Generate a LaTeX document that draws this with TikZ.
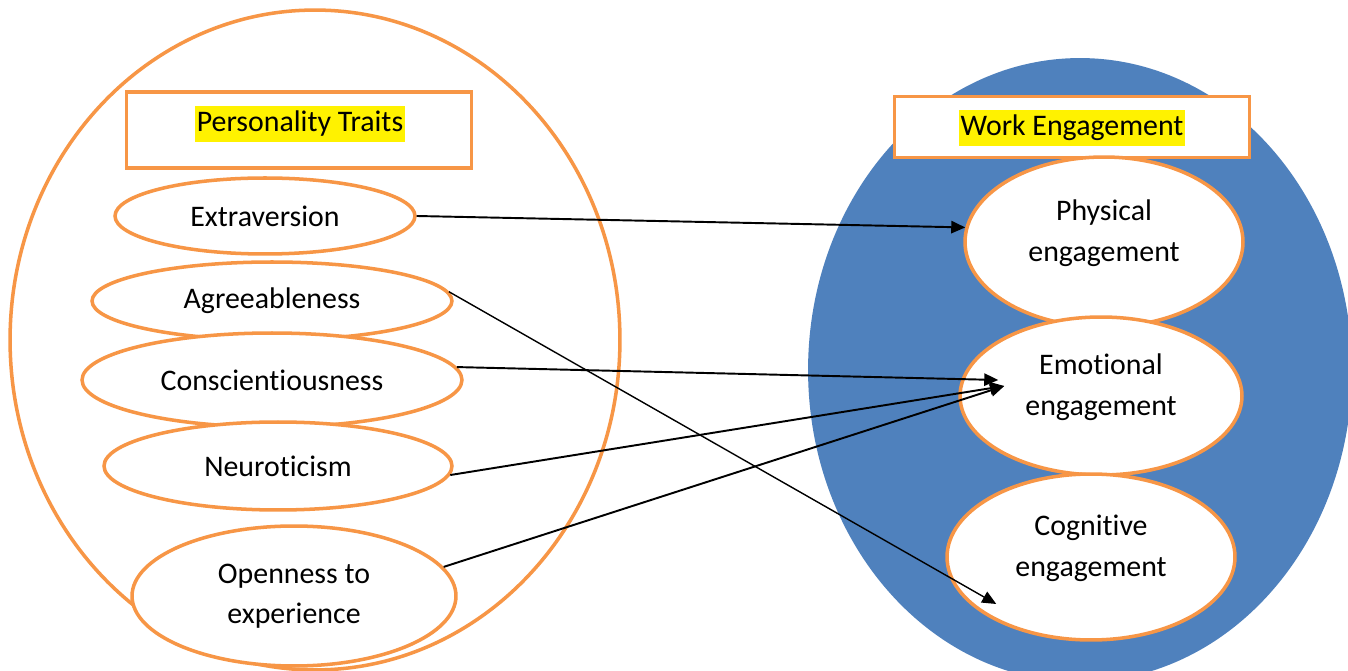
\documentclass[tikz,border=0pt]{standalone}
\usepackage{fontspec}
\setmainfont{Carlito}[RawFeature=-liga]
\usetikzlibrary{shapes.geometric,arrows.meta}
\definecolor{traitorange}{HTML}{F79646}
\definecolor{engblue}{HTML}{4F81BD}
\tikzset{
  trait/.style={ellipse, draw=traitorange, line width=2pt, fill=white,
    inner sep=0pt, align=center, font=\fontsize{17}{23}\selectfont},
  engage/.style={trait, text depth=13pt},
  headbox/.style={rectangle, draw=traitorange, line width=2.1pt, fill=white, inner sep=0pt},
  hilite/.style={fill=yellow, inner sep=1pt, text height=13pt, text depth=5pt,
    font=\fontsize{17}{20}\selectfont},
  link/.style={-{Triangle[length=8pt,width=7pt]}, line width=1.1pt}
}
\begin{document}
\begin{tikzpicture}[x=0.02cm,y=-0.02cm]
  \clip (0,0) rectangle (1348,671);
  \fill[white] (0,0) rectangle (1348,671);
  % the two groups
  \draw[traitorange, line width=2pt] (315,340) ellipse [x radius=6.1cm, y radius=6.6cm];
  \fill[engblue] (1080,370) ellipse [x radius=5.44cm, y radius=6.24cm];
  % headings
  \node[headbox, minimum width=6.9cm, minimum height=1.52cm] (ptbox) at (299,130) {};
  \node[hilite] (pt) at (300,124) {Personality Traits};
  \node[headbox, minimum width=7.1cm, minimum height=1.22cm] (webox) at (1072,127) {};
  \node[hilite] (we) at (1072,128) {Work Engagement};
  % traits
  \node[trait, minimum width=6cm, minimum height=1.52cm] (ext) at (265,216) {Extraversion};
  \node[trait, minimum width=7.2cm, minimum height=1.56cm] (agr) at (272,301) {Agreeableness};
  \node[trait, minimum width=7.6cm, minimum height=1.88cm] (con) at (272,380) {Conscientiousness};
  \node[trait, minimum width=6.96cm, minimum height=1.76cm] (neu) at (278,466) {Neuroticism};
  \node[trait, minimum width=6.48cm, minimum height=2.8cm] (opn) at (294,596) {Openness to\\experience};
  % engagement
  \node[engage, minimum width=5.56cm, minimum height=3.4cm] (phy) at (1104,242) {Physical\\engagement};
  \node[engage, minimum width=5.64cm, minimum height=3.16cm] (emo) at (1101,396) {Emotional\\engagement};
  \node[engage, minimum width=5.76cm, minimum height=3.32cm] (cog) at (1091,557) {Cognitive\\engagement};
  \coordinate (emotipa) at ([shift={(40,-16)}]emo.west);
  \coordinate (emotipb) at ([shift={(46,-10)}]emo.west);
  \coordinate (cogtip) at ([shift={(51,47)}]cog.west);
  % links
  \draw[link] (ext.east) -- (phy.174);
  \draw[link, line width=0.8pt] (agr.3) -- (cogtip);
  \draw[link] (con.4) -- (emotipa);
  \draw[link] (neu.-3) -- (emotipb);
  \draw[link] (opn.11) -- (emotipb);
\end{tikzpicture}
\end{document}
